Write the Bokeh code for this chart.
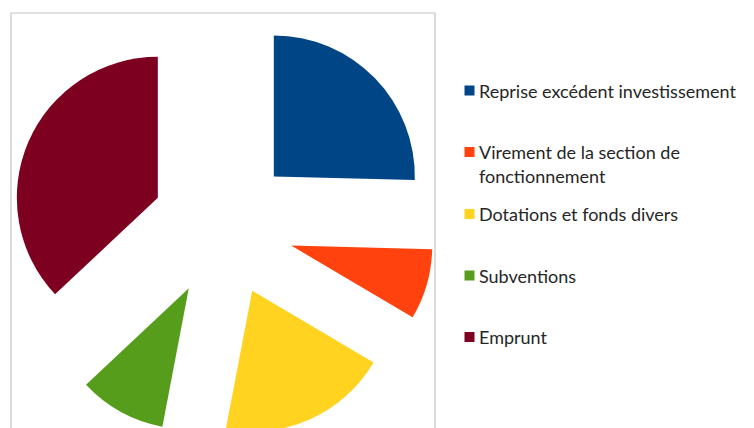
import math
from bokeh.plotting import figure
from bokeh.models import Range1d, ColumnDataSource
from bokeh.core.properties import value
from bokeh.embed import file_html
from bokeh.resources import INLINE

# ---- data ----
categories = [
    "Reprise excédent  investissement",
    "Virement  de la section de fonctionnement",
    "Dotations et fonds divers",
    "Subventions",
    "Emprunt",
]
legend_lines = [
    ["Reprise excédent  investissement"],
    ["Virement  de la section de", "fonctionnement"],
    ["Dotations et fonds divers"],
    ["Subventions"],
    ["Emprunt"],
]
shares = [25.4, 8.1, 19.5, 10.0, 37.0]
colors = ["#004586", "#ff420e", "#ffd320", "#579d1c", "#7e0021"]

# ---- layout (pixel-like data units, y up) ----
W, H = 754, 428
def sy(screen_y):
    return H - screen_y

cx, cy = 222.5, sy(225.5)
R = 141
EXPLODE = 71

total = sum(shares)
starts, ends, xs, ys = [], [], [], []
cum = 0.0
for v in shares:
    a0 = math.pi / 2 - 2 * math.pi * cum / total
    cum += v
    a1 = math.pi / 2 - 2 * math.pi * cum / total
    mid = (a0 + a1) / 2
    starts.append(a1)
    ends.append(a0)
    xs.append(cx + EXPLODE * math.cos(mid))
    ys.append(cy + EXPLODE * math.sin(mid))

p = figure(width=W, height=H, output_backend="svg", toolbar_location=None,
           x_range=Range1d(0, W), y_range=Range1d(0, H),
           x_axis_location=None, y_axis_location=None, min_border=0,
           outline_line_color=None)
p.grid.visible = False
p.background_fill_color = "white"
p.border_fill_color = "white"

# plot-area frame (bottom edge beyond view)
p.quad(left=[10.5], right=[434.5], top=[sy(12.5)], bottom=[-20],
       fill_color=None, line_color="#c3c3c3", line_width=1.2)

src = ColumnDataSource(dict(x=xs, y=ys, s=starts, e=ends, c=colors, name=categories))
p.wedge(x="x", y="y", radius=R, start_angle="s", end_angle="e",
        direction="anticlock", fill_color="c", line_color=None, source=src)

# legend
row_y = [90, 151.5, 213.5, 275, 336.5]
line_gap = 23.5
sq_x, sq_y, tx_x, tys, tlabels = [], [], [], [], []
for i, lines in enumerate(legend_lines):
    sq_x.append(469)
    sq_y.append(sy(row_y[i]))
    for j, t in enumerate(lines):
        tx_x.append(478.5)
        tys.append(sy(row_y[i] + j * line_gap))
        tlabels.append(t)
p.rect(x=sq_x, y=sq_y, width=10, height=10, fill_color=colors, line_color=None)
p.text(x=tx_x, y=tys, text=tlabels, text_font=value("Lato"),
       text_font_size="18px", text_color="#262626", text_baseline="middle",
       text_align="left")

open("out.html", "w").write(file_html(p, INLINE))
